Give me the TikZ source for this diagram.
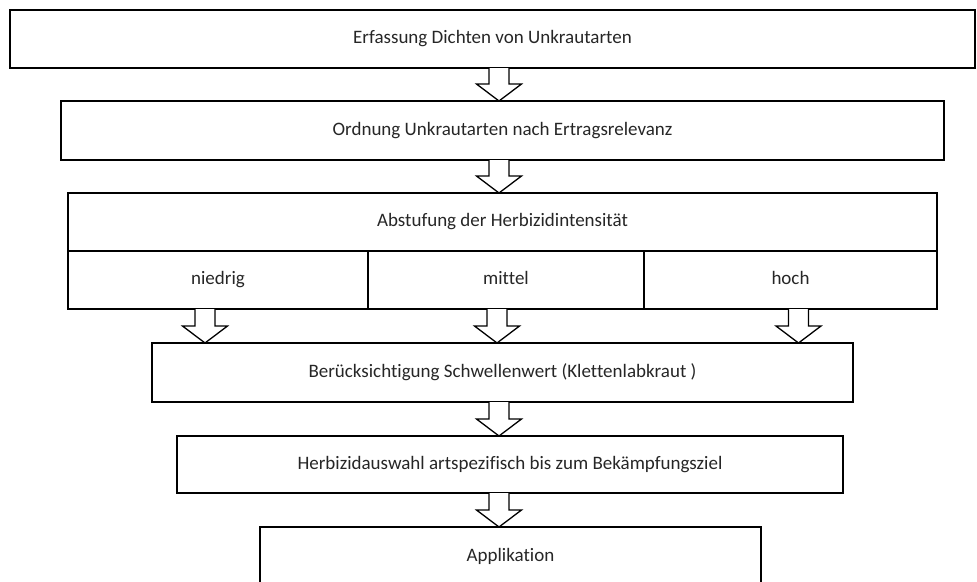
\documentclass[tikz,border=0pt]{standalone}
\usepackage{fontspec}
\setmainfont{Carlito}[Ligatures=NoCommon]
\usetikzlibrary{positioning,calc}

% hollow block arrow from (#1) straight down to the height of (#2)
\newcommand{\hollowarrow}[2]{%
  \draw[hollow] let \p1=(#1), \p2=(#2) in
    (\x1-10pt,\y1) -- (\x1-10pt,\y2+17pt) -- (\x1-22.5pt,\y2+17pt) -- (\x1,\y2)
    -- (\x1+22.5pt,\y2+17pt) -- (\x1+10pt,\y2+17pt) -- (\x1+10pt,\y1);
}

\begin{document}
\begin{tikzpicture}[
    x=1pt, y=1pt,
    node distance=34pt,
    stage/.style={rectangle, draw, line width=1.6pt, outer sep=0pt, inner sep=0pt, minimum height=58pt, text height=13pt, text depth=4pt, align=center, text=black!85, font=\fontsize{19}{23}\selectfont},
    hollow/.style={draw, line width=1.3pt, fill=white, line join=miter}
]
\useasboundingbox (0,0) rectangle (977,-581);
\clip (0,0) rectangle (977,-581);
\coordinate (axis) at (499,0);

\node[stage, minimum width=965pt] (erfassung) at (492.5,-39) {Erfassung Dichten von Unkrautarten};
\node[stage, minimum width=883pt, minimum height=59pt, below=33pt of erfassung, xshift=10pt] (ordnung) {Ordnung Unkrautarten nach Ertragsrelevanz};
\node[stage, minimum width=869pt, below=33pt of ordnung] (abstufung) {Abstufung der Herbizidintensität};
\node[stage, minimum width=300pt, anchor=north west] (niedrig) at (abstufung.south west) {niedrig};
\node[stage, minimum width=276pt, anchor=north west] (mittel) at (niedrig.north east) {mittel};
\node[stage, minimum width=293pt, anchor=north west] (hoch) at (mittel.north east) {hoch};
\node[stage, minimum width=701pt, minimum height=59pt, below=34pt of mittel, xshift=-3.5pt] (schwelle) {Berücksichtigung Schwellenwert (Klettenlabkraut )};
\node[stage, minimum width=666pt, minimum height=57pt, below=34pt of schwelle, xshift=7.5pt] (auswahl) {Herbizidauswahl artspezifisch bis zum Bekämpfungsziel};
\node[stage, minimum width=501pt, minimum height=60pt, below=34pt of auswahl, xshift=0.5pt] (applikation) {Applikation};

\hollowarrow{axis |- erfassung.south}{ordnung.north}
\hollowarrow{axis |- ordnung.south}{abstufung.north}
\hollowarrow{[xshift=-13pt]niedrig.south}{schwelle.north}
\hollowarrow{[xshift=-9pt]mittel.south}{schwelle.north}
\hollowarrow{[xshift=8pt]hoch.south}{schwelle.north}
\hollowarrow{axis |- schwelle.south}{auswahl.north}
\hollowarrow{axis |- auswahl.south}{applikation.north}
\end{tikzpicture}
\end{document}
